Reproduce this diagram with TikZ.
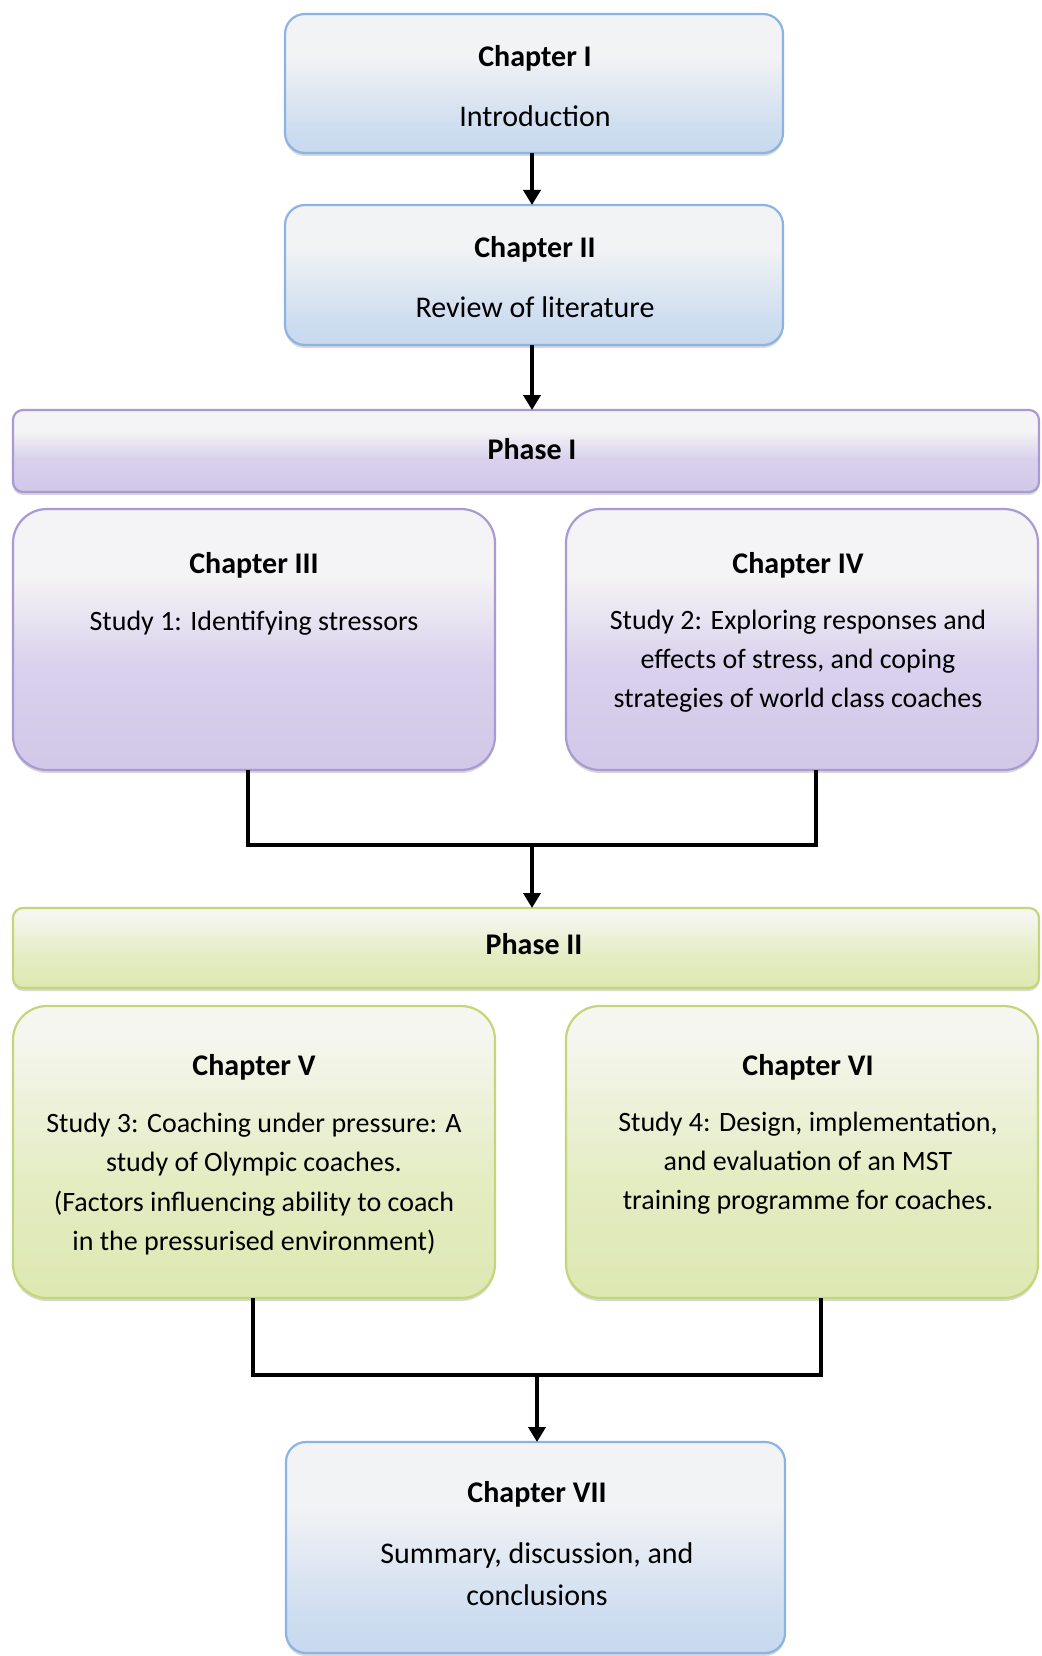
\documentclass[tikz,border=0pt]{standalone}
\usepackage{fontspec}
\setmainfont{Carlito}
\usetikzlibrary{arrows.meta,shadows,calc}

% palette
\definecolor{blueT}{HTML}{F2F3F5}
\definecolor{blueM}{HTML}{CFDEF0}
\definecolor{blueB}{HTML}{B4CCE9}
\definecolor{blueL}{HTML}{8DB3E2}
\definecolor{purT}{HTML}{F4F3F5}
\definecolor{purM}{HTML}{D9D1ED}
\definecolor{purB}{HTML}{C8BCE2}
\definecolor{purL}{HTML}{A99BD2}
\definecolor{grnT}{HTML}{F5F6EF}
\definecolor{grnM}{HTML}{E4ECC2}
\definecolor{grnB}{HTML}{D7E39E}
\definecolor{grnL}{HTML}{C3D77A}

\pgfdeclareverticalshading{blueshade}{100bp}{color(0bp)=(blueB); color(35bp)=(blueM); color(60bp)=(blueT); color(100bp)=(blueT)}
\pgfdeclareverticalshading{purshade}{100bp}{color(0bp)=(purB); color(45bp)=(purM); color(62bp)=(purT); color(100bp)=(purT)}
\pgfdeclareverticalshading{grnshade}{100bp}{color(0bp)=(grnB); color(45bp)=(grnM); color(70bp)=(grnT); color(100bp)=(grnT)}

\tikzset{
  x=1pt, y=-1pt,
  panel/.style={draw, line width=2.2pt, inner sep=0pt, outer sep=0pt,
    drop shadow={shadow xshift=0pt, shadow yshift=-3pt, opacity=0.22, fill=black!70}},
  bluebox/.style={panel, draw=blueL, shading=blueshade, rounded corners=20pt},
  purbox/.style={panel, draw=purL, shading=purshade, rounded corners=34pt},
  grnbox/.style={panel, draw=grnL, shading=grnshade, rounded corners=34pt},
  purbar/.style={panel, draw=purL, shading=purshade, rounded corners=10pt},
  grnbar/.style={panel, draw=grnL, shading=grnshade, rounded corners=10pt},
  ttl/.style={font=\fontsize{30}{40}\selectfont\bfseries, inner sep=0pt, anchor=center},
  big/.style={font=\fontsize{30}{42}\selectfont, align=center, inner sep=0pt, anchor=center},
  body/.style={font=\fontsize{28}{39.3}\selectfont, align=center, inner sep=0pt, anchor=center},
  link/.style={line width=4pt, draw=black},
  linkarrow/.style={link, -{Triangle[width=17pt,length=15pt]}},
}

\begin{document}
\begin{tikzpicture}
\useasboundingbox[fill=white] (0,0) rectangle (1041,1656);

% boxes
\node[bluebox, minimum width=498pt, minimum height=139pt] (c1) at (534,83.5) {};
\node[bluebox, minimum width=498pt, minimum height=140pt] (c2) at (534,275) {};
\node[purbar, minimum width=1026pt, minimum height=82pt] (p1) at (526,451) {};
\node[purbox, minimum width=482pt, minimum height=261pt] (c3) at (254,639.5) {};
\node[purbox, minimum width=472pt, minimum height=261pt] (c4) at (802,639.5) {};
\node[grnbar, minimum width=1026pt, minimum height=80pt] (p2) at (526,948) {};
\node[grnbox, minimum width=482pt, minimum height=292pt] (c5) at (254,1152) {};
\node[grnbox, minimum width=472pt, minimum height=292pt] (c6) at (802,1152) {};
\node[bluebox, minimum width=499pt, minimum height=211pt] (c7) at (535.5,1547.5) {};

% texts
\node[ttl] (t1) at (535,58) {Chapter I};
\node[big] (b1) at (535,116) {Introduction};
\node[ttl] (t2) at (535,249) {Chapter II};
\node[big] (b2) at (535,307) {Review of literature};
\node[ttl] (tp1) at (532,449) {Phase I};
\node[ttl] (t3) at (254,565) {Chapter III};
\node[body] (b3) at (254,623) {Study 1: Identifying stressors};
\node[ttl] (t4) at (798,565) {Chapter IV};
\node[body] (b4) at (798,661) {Study 2: Exploring responses and\\effects of stress, and coping\\strategies of world class coaches};
\node[ttl] (tp2) at (534,944) {Phase II};
\node[ttl] (t5) at (254,1067) {Chapter V};
\node[body] (b5) at (254,1184) {Study 3: Coaching under pressure: A\\study of Olympic coaches.\\(Factors influencing ability to coach\\in the pressurised environment)};
\node[ttl] (t6) at (808,1067) {Chapter VI};
\node[body] (b6) at (808,1163) {Study 4: Design, implementation,\\and evaluation of an MST\\training programme for coaches.};
\node[ttl] (t7) at (537,1494) {Chapter VII};
\node[big] (b7) at (537,1574) {Summary, discussion, and\\conclusions};

% junction points
\coordinate (j1) at (532,845);
\coordinate (j2) at (537,1375);

% connectors
\draw[linkarrow] ([xshift=-2pt]c1.south) -- ([xshift=-2pt]c2.north);
\draw[linkarrow] ([xshift=-2pt]c2.south) -- ([xshift=-2pt]c2.south |- p1.north);
\draw[link] ([xshift=-6pt]c3.south) |- (j1) -| ([xshift=14pt]c4.south);
\draw[linkarrow] (j1) -- (j1 |- p2.north);
\draw[link] ([xshift=-1pt]c5.south) |- (j2) -| ([xshift=19pt]c6.south);
\draw[linkarrow] (j2) -- (j2 |- c7.north);
\end{tikzpicture}
\end{document}
